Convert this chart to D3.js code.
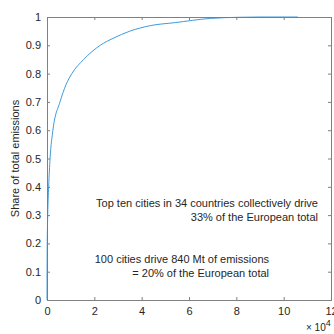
<!DOCTYPE html>
<html>
<head>
<meta charset="utf-8">
<script src="https://cdn.jsdelivr.net/npm/d3@7"></script>
<style>
  body { margin: 0; background: #fff; }
  text { font-family: "Liberation Sans", Arial, sans-serif; fill: #262626; }
</style>
</head>
<body>
<div id="chart"></div>
<script>
// city rank (number of cities) vs cumulative share of emissions
const cityRank = [0, 30, 100, 300, 700, 1300, 2500, 5500, 8000, 10500, 15500, 22500, 28000, 35000, 44000, 54000, 69000, 81000, 90000, 106000];
const shareValues = [0, 0.1, 0.2, 0.3, 0.4, 0.5, 0.6, 0.7, 0.76, 0.8, 0.85, 0.9, 0.925, 0.95, 0.97, 0.98, 0.995, 0.999, 1, 1];
const xTicks = [0, 20000, 40000, 60000, 80000, 100000, 120000];
const yTicks = [0, 0.1, 0.2, 0.3, 0.4, 0.5, 0.6, 0.7, 0.8, 0.9, 1];
const noteTop = ['Top ten cities in 34 countries collectively drive', '33% of the European total'];
const noteBottom = ['100 cities drive 840 Mt of emissions', '= 20% of the European total'];

const width = 334, height = 334;
const margin = { top: 17, right: 3, bottom: 34, left: 47 };
const innerW = width - margin.left - margin.right;
const innerH = height - margin.top - margin.bottom;

const svg = d3.select('#chart').append('svg')
    .attr('width', width)
    .attr('height', height);

const g = svg.append('g')
    .attr('transform', `translate(${margin.left},${margin.top})`);

const x = d3.scaleLinear().domain([0, 120000]).range([0, innerW]);
const y = d3.scaleLinear().domain([0, 1]).range([innerH, 0]);

const axisColor = '#808080';
const tickLen = 3;

function styleAxis(sel) {
    sel.select('.domain').remove();
    sel.selectAll('.tick line').attr('stroke', axisColor);
    sel.selectAll('.tick text').style('font-size', '11px').attr('fill', '#262626');
}

// bottom axis, ticks point inward
g.append('g')
    .attr('transform', `translate(0,${innerH})`)
    .call(d3.axisBottom(x).tickValues(xTicks).tickFormat(d => d / 10000).tickSizeInner(-tickLen).tickPadding(7))
    .call(styleAxis);

// top ticks
g.append('g')
    .call(d3.axisTop(x).tickValues(xTicks).tickFormat('').tickSizeInner(-tickLen))
    .call(styleAxis);

// left axis
g.append('g')
    .call(d3.axisLeft(y).tickValues(yTicks).tickFormat(d => d).tickSizeInner(-tickLen).tickPadding(6))
    .call(styleAxis);

// right ticks
g.append('g')
    .attr('transform', `translate(${innerW},0)`)
    .call(d3.axisRight(y).tickValues(yTicks).tickFormat('').tickSizeInner(-tickLen))
    .call(styleAxis);

// box
g.append('rect')
    .attr('x', 0).attr('y', 0)
    .attr('width', innerW).attr('height', innerH)
    .attr('fill', 'none')
    .attr('stroke', axisColor)
    .attr('stroke-width', 1)
    .attr('shape-rendering', 'crispEdges');

// curve
const line = d3.line()
    .x((d, i) => x(cityRank[i]))
    .y(d => y(d))
    .curve(d3.curveMonotoneX);

g.append('path')
    .datum(shareValues)
    .attr('d', line)
    .attr('fill', 'none')
    .attr('stroke', '#2a8fd6')
    .attr('stroke-width', 0.9);

// y label
svg.append('text')
    .attr('transform', `translate(15,${margin.top + innerH / 2}) rotate(-90)`)
    .attr('text-anchor', 'middle')
    .attr('dominant-baseline', 'central')
    .style('font-size', '11px')
    .text('Share of total emissions');

// x multiplier
const mult = svg.append('text')
    .attr('x', 306)
    .attr('y', 331)
    .style('font-size', '11px');
mult.append('tspan').style('font-size', '10px').text('\u00d7 10');
mult.append('tspan').attr('dy', -5).style('font-size', '9px').text('4');

// annotations
svg.append('g').selectAll('text')
    .data(noteTop)
    .join('text')
    .attr('x', 318)
    .attr('y', (d, i) => 207 + i * 13.5)
    .attr('text-anchor', 'end')
    .style('font-size', '11px')
    .text(d => d);

svg.append('g').selectAll('text')
    .data(noteBottom)
    .join('text')
    .attr('x', 269)
    .attr('y', (d, i) => 263 + i * 13.5)
    .attr('text-anchor', 'end')
    .style('font-size', '11px')
    .text(d => d);
</script>
</body>
</html>
